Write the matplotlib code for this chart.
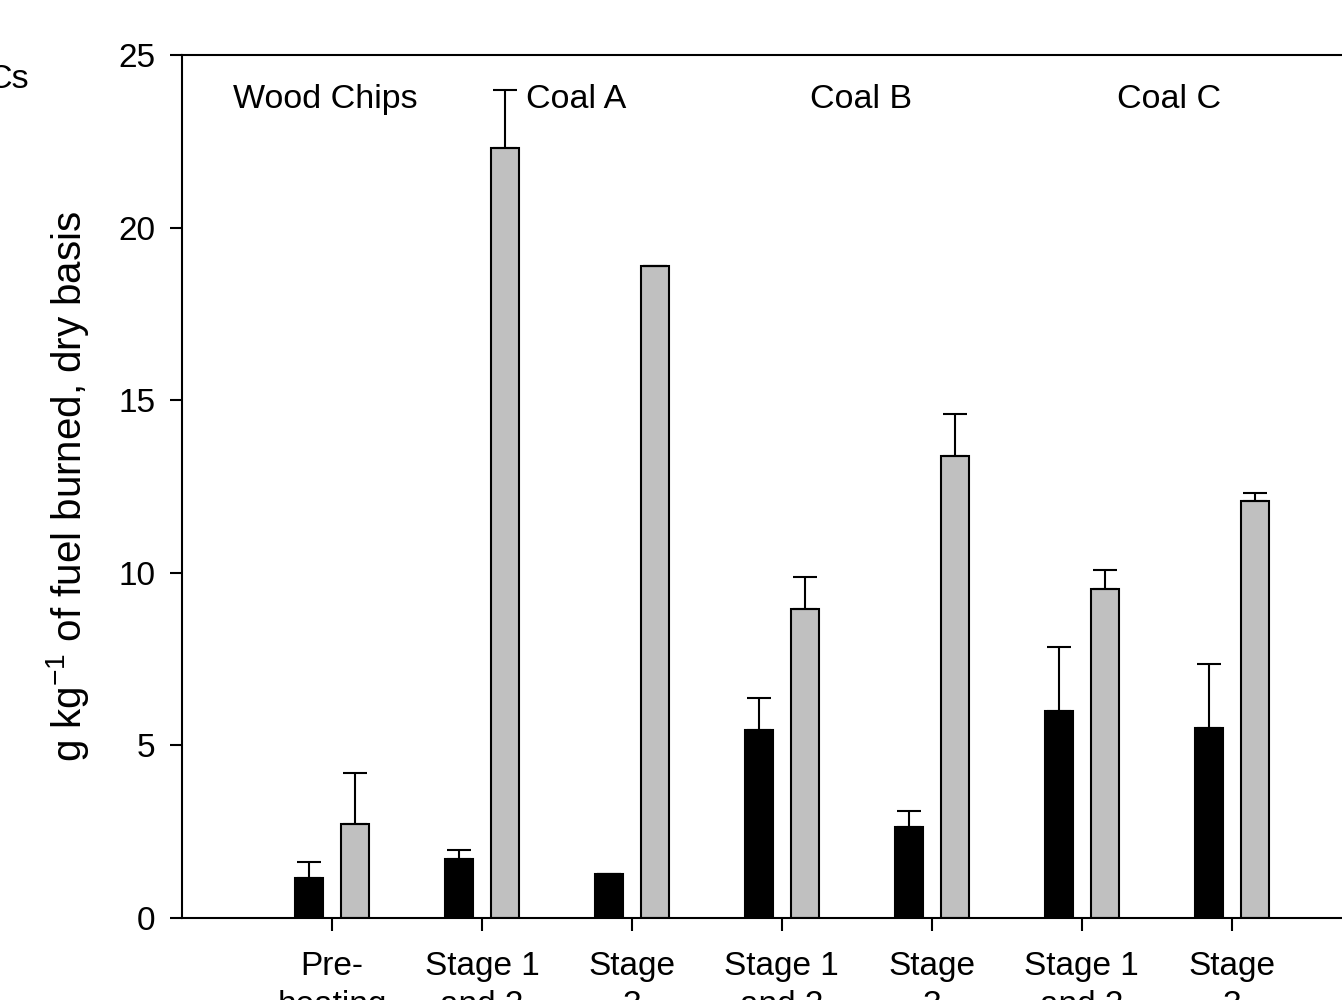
import matplotlib
matplotlib.use("Agg")
import matplotlib.pyplot as plt
import numpy as np

plt.rcParams['font.family'] = ['Liberation Sans', 'DejaVu Sans']

# stages along the x axis, grouped by fuel
stage_labels = ["Pre-\nheating", "Stage 1\nand 2", "Stage\n3", "Stage 1\nand 2", "Stage\n3", "Stage 1\nand 2", "Stage\n3"]
fuel_names = ["Wood Chips", "Coal A", "Coal B", "Coal C"]

# black series and its (upper) error
black_vals = [1.16, 1.71, 1.27, 5.45, 2.64, 6.0, 5.5]
black_err = [0.46, 0.26, 0.0, 0.92, 0.46, 1.85, 1.86]
# grey series and its (upper) error
grey_vals = [2.72, 22.3, 18.9, 8.95, 13.38, 9.53, 12.08]
grey_err = [1.48, 1.7, 0.0, 0.93, 1.22, 0.55, 0.23]

fig = plt.figure(figsize=(13.42, 10), dpi=100)
ax = fig.add_axes([0.1356, 0.082, 0.894, 0.863])

x = np.arange(1, len(stage_labels) + 1)
w = 0.187
off = 0.153

ax.bar(x - off, black_vals, w, color='black', edgecolor='black', linewidth=1.5,
       yerr=[np.zeros(len(black_err)), black_err], capsize=8.5,
       error_kw=dict(elinewidth=1.5, capthick=1.5, ecolor='black'))
ax.bar(x + off, grey_vals, w, color='#c0c0c0', edgecolor='black', linewidth=1.5,
       yerr=[np.zeros(len(grey_err)), grey_err], capsize=8.5,
       error_kw=dict(elinewidth=1.5, capthick=1.5, ecolor='black'))

ax.set_xlim(0, 8)
ax.set_ylim(0, 25)
ax.set_yticks([0, 5, 10, 15, 20, 25])
ax.set_xticks(x)
ax.set_xticklabels(stage_labels, linespacing=1.3)
ax.tick_params(axis='both', direction='out', length=9, width=1.5, labelsize=24)
ax.tick_params(axis='x', pad=15)
ax.tick_params(axis='y', pad=10)
for s in ax.spines.values():
    s.set_linewidth(1.5)

ax.set_ylabel("g kg$^{\\mathregular{-1}}$ of fuel burned, dry basis", fontsize=29, labelpad=20)

# fuel labels at top of the plot
fuel_x = [0.955, 2.63, 4.53, 6.58]
for fx, name in zip(fuel_x, fuel_names):
    ax.text(fx, 23.7, name, fontsize=24.5, ha='center', va='center')

# leftover of a panel label cut by the figure edge
fig.text(0.0215, 0.921, "Cs", fontsize=24.5, ha='right', va='center')

fig.savefig("out.png", dpi=100)
